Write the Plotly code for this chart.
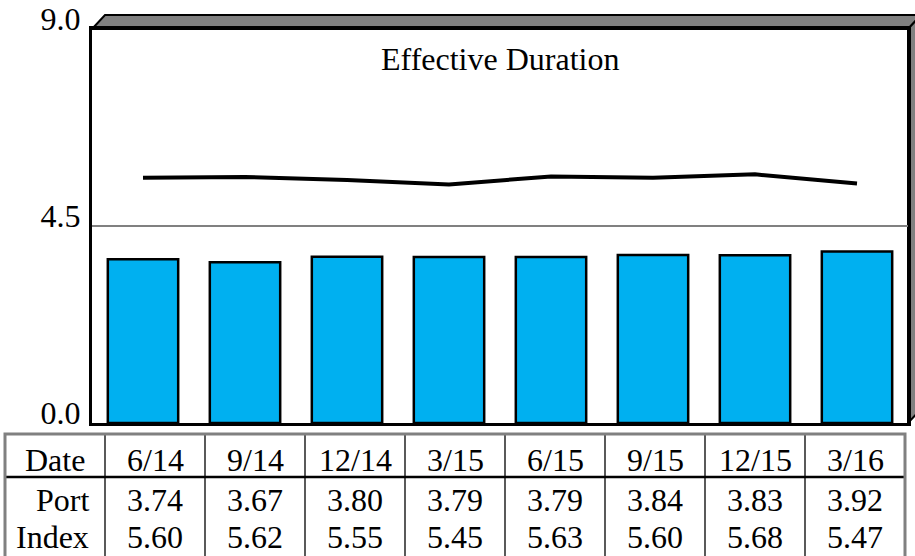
import plotly.graph_objects as go

dates = ["6/14", "9/14", "12/14", "3/15", "6/15", "9/15", "12/15", "3/16"]
port = [3.74, 3.67, 3.80, 3.79, 3.79, 3.84, 3.83, 3.92]
index_vals = [5.60, 5.62, 5.55, 5.45, 5.63, 5.60, 5.68, 5.47]
y_ticks = [0, 4.5, 9.0]
y_ticktext = ["0.0", "4.5", "9.0"]
row_labels = ["Date", "Port", "Index"]
title_text = "Effective Duration"

FONT = "Liberation Serif"
FS = 32
W_, H_ = 915, 556
PL, PR, PT, PB = 92, 908, 29, 423
PW, PH = PR - PL, PB - PT


def px(x):
    return (x - PL) / PW


def py(y):
    return (PB - y) / PH


fig = go.Figure()
fig.add_trace(go.Bar(
    x=dates, y=port, marker=dict(color="#00B0F0", line=dict(color="black", width=2.5)),
    showlegend=False, hoverinfo="skip"))
fig.add_trace(go.Scatter(
    x=dates, y=index_vals, mode="lines", line=dict(color="black", width=4),
    showlegend=False, hoverinfo="skip"))

shapes = []
D = 13
# 3D shadow top and right faces
shapes.append(dict(type="path", xref="paper", yref="paper", layer="below",
                   path=f"M {px(PL)},{py(PT)} L {px(PL+D)},{py(PT-D-1)} L {px(PR+D)},{py(PT-D-1)} L {px(PR)},{py(PT)} Z",
                   fillcolor="#808080", line=dict(color="black", width=2)))
shapes.append(dict(type="path", xref="paper", yref="paper", layer="below",
                   path=f"M {px(PR)},{py(PT)} L {px(PR+D)},{py(PT-D-1)} L {px(PR+D)},{py(PB-D-1)} L {px(PR)},{py(PB)} Z",
                   fillcolor="#808080", line=dict(color="black", width=2)))

# table
TL, TR, TT, TB = 5, 905, 434, 560
HB = 477
COLW = 100
C0 = 105
for i in range(len(dates)):
    xx = C0 + COLW * i
    shapes.append(dict(type="line", xref="paper", yref="paper",
                       x0=px(xx), x1=px(xx), y0=py(TT), y1=py(TB),
                       line=dict(color="black", width=1.3)))
shapes.append(dict(type="line", xref="paper", yref="paper",
                   x0=px(TL), x1=px(TR), y0=py(HB), y1=py(HB),
                   line=dict(color="black", width=2.5)))
shapes.append(dict(type="rect", xref="paper", yref="paper",
                   x0=px(TL), x1=px(TR), y0=py(TT), y1=py(TB),
                   line=dict(color="#808080", width=3)))

annotations = []
annotations.append(dict(text=title_text, xref="paper", yref="paper", x=0.5, y=py(59),
                        xanchor="center", yanchor="middle", showarrow=False,
                        font=dict(family=FONT, size=FS, color="black")))
row_y = [460, 500, 537]
annotations.append(dict(text=row_labels[0], xref="paper", yref="paper", x=px(55), y=py(row_y[0]),
                        xanchor="center", yanchor="middle", showarrow=False,
                        font=dict(family=FONT, size=FS, color="black")))
for lab, yy in zip(row_labels[1:], row_y[1:]):
    annotations.append(dict(text=lab, xref="paper", yref="paper", x=px(91), y=py(yy),
                            xanchor="right", yanchor="middle", showarrow=False,
                            font=dict(family=FONT, size=FS, color="black")))
for i, (d, p, ix) in enumerate(zip(dates, port, index_vals)):
    cx = px(C0 + COLW * i + COLW / 2)
    for txt, yy in ((d, row_y[0]), (f"{p:.2f}", row_y[1]), (f"{ix:.2f}", row_y[2])):
        annotations.append(dict(text=txt, xref="paper", yref="paper", x=cx, y=py(yy),
                                xanchor="center", yanchor="middle", showarrow=False,
                                font=dict(family=FONT, size=FS, color="black")))

fig.update_layout(
    width=W_, height=H_,
    margin=dict(l=PL, r=W_ - PR, t=PT, b=H_ - PB, pad=0, autoexpand=False),
    paper_bgcolor="white", plot_bgcolor="white",
    bargap=0.31,
    shapes=shapes, annotations=annotations,
    xaxis=dict(showticklabels=False, showgrid=False, zeroline=False, showline=True,
               linecolor="black", linewidth=3, mirror=True, ticks="", automargin=False),
    yaxis=dict(range=[0, 9], tickvals=y_ticks, ticktext=y_ticktext, showgrid=True,
               gridcolor="#808080", gridwidth=1.5, zeroline=False, showline=True,
               linecolor="black", linewidth=3, mirror=True, ticks="",
               ticklabelposition="outside top", ticklabelstandoff=2,
               ticklabelshift=12, ticklabeloverflow="allow", automargin=False,
               tickfont=dict(family=FONT, size=FS, color="black")),
)

fig.write_html("out.html", config={"displayModeBar": False},
               post_script="document.body.style.margin='0';document.body.style.overflow='hidden';")
